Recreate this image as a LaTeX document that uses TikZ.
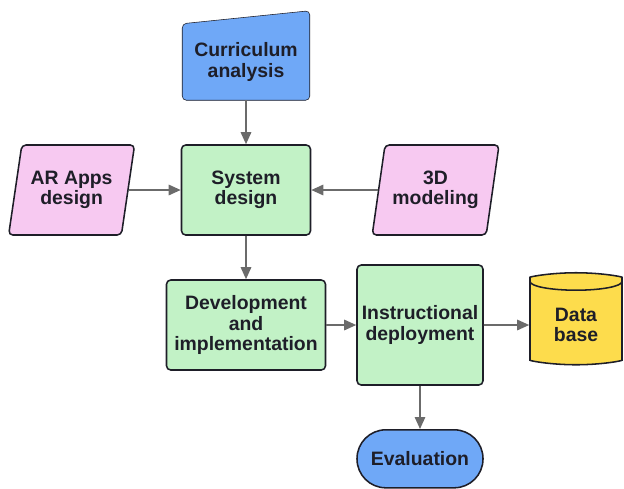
\documentclass[tikz,border=0pt]{standalone}
\usepackage{fontspec}
\setsansfont{Liberation Sans}
\usetikzlibrary{arrows.meta, positioning, shapes.geometric, calc, backgrounds}
\definecolor{cblue}{HTML}{6FA8F7}
\definecolor{cgreen}{HTML}{C2F2C6}
\definecolor{cpink}{HTML}{F7C9F1}
\definecolor{cyellow}{HTML}{FDDC4C}
\definecolor{cline}{HTML}{1E1E28}
\definecolor{cgrey}{HTML}{6B6B6B}
\tikzset{
  every picture/.style={font=\sffamily\bfseries\fontsize{13.8}{14.4}\selectfont, line width=1.1pt},
  box/.style={draw=cline, fill=#1, rounded corners=3pt, align=center, text=cline, inner sep=2pt},
  box/.default=cgreen,
  slanted/.style={box=cpink, trapezium, trapezium left angle=75, trapezium right angle=105,
    trapezium stretches=true, minimum width=3.175cm, minimum height=2.25cm},
  arrow/.style={-{Triangle[length=3mm, width=2.6mm]}, draw=cgrey, line width=1.2pt},
}

\begin{document}
\begin{tikzpicture}
  \useasboundingbox (0,0) rectangle (15.6,-12.2);
  % manual input on top
  \node[align=center, text=cline, minimum width=3.15cm, minimum height=1.875cm] (curr) at (6.15,-1.55) {Curriculum\\analysis};
  \begin{scope}[on background layer]
  \draw[draw=cline, fill=cblue, rounded corners=3pt] (curr.south west) -- (curr.north west) -- ($(curr.north east)+(0,0.325)$) -- (curr.south east) -- cycle;
  \end{scope}
  % design row
  \node[box, minimum width=3.225cm, minimum height=2.25cm] (sys) at (6.15,-4.75) {System\\design};
  \node[slanted] (ar) at (1.79,-4.75) {AR Apps\\design};
  \node[slanted] (model) at (10.89,-4.75) {3D\\modeling};
  % build and deploy
  \node[box, minimum width=3.975cm, minimum height=2.25cm] (dev) at (6.15,-8.125) {Development\\and\\implementation};
  \node[box, minimum width=3.15cm, minimum height=3cm] (inst) at (10.5,-8.125) {Instructional\\deployment};
  \node[box=cyellow, cylinder, shape border rotate=90, aspect=0.35, minimum width=2.3cm, minimum height=2.3cm] (db) at (14.4,-8.125) {Data\\base};
  \node[box=cblue, rounded corners=0.72cm, minimum width=3.15cm, minimum height=1.45cm] (eval) at (10.5,-11.47) {Evaluation};
  % flow
  \draw[arrow] (curr.south) -- (sys.north);
  \draw[arrow] (ar.east) -- (sys.west);
  \draw[arrow] (model.west) -- (sys.east);
  \draw[arrow] (sys.south) -- (dev.north);
  \draw[arrow] (dev.east) -- (inst.west);
  \draw[arrow] (inst.east) -- (db.west);
  \draw[arrow] (inst.south) -- (eval.north);
\end{tikzpicture}
\end{document}
